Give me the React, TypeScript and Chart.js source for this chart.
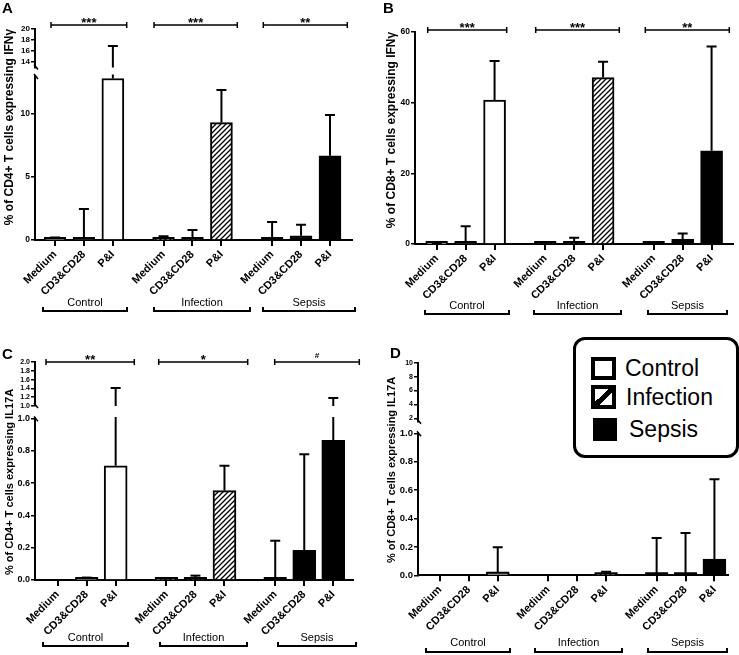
import React, { useEffect, useRef } from "react";
import { Chart, registerables } from "chart.js";

Chart.register(...registerables);

const FONT = "'Liberation Sans', Arial, Helvetica, sans-serif";
Chart.defaults.font.family = FONT;
Chart.defaults.color = "#000";

// ---------------- data ----------------
const categories = ["Medium", "CD3&CD28", "P&I"];
const groups = ["Control", "Infection", "Sepsis"];
// x-axis slots of the bars (three per group, gap between groups)
const slotControl = [0, 1, 2];
const slotInfection = [3.75, 4.75, 5.75];
const slotSepsis = [7.5, 8.5, 9.5];

// A: % of CD4+ T cells expressing IFNγ (mean, and top of error bar)
const aControl = [0.05, 0.1, 12.8];
const aInfection = [0.05, 0.1, 9.3];
const aSepsis = [0.05, 0.34, 6.67];
const aControlUpper = [0.2, 2.45, 16.9];
const aInfectionUpper = [0.3, 0.8, 11.9];
const aSepsisUpper = [1.43, 1.2, 9.9];
const sigA = ["***", "***", "**"];
const ticksALow = [0, 5, 10];
const ticksAHigh = [14, 16, 18, 20];

// B: % of CD8+ T cells expressing IFNγ
const bControl = [0.1, 0.4, 40.7];
const bInfection = [0.3, 0.3, 47.1];
const bSepsis = [0.1, 1.35, 26.4];
const bControlUpper = [0.15, 5.0, 51.8];
const bInfectionUpper = [0.5, 1.8, 51.6];
const bSepsisUpper = [0.3, 3.0, 55.9];
const sigB = ["***", "***", "**"];
const ticksB = [0, 20, 40, 60];

// C: % of CD4+ T cells expressing IL17A
const cControl = [0, 0.003, 0.707];
const cInfection = [0.003, 0.008, 0.553];
const cSepsis = [0.005, 0.184, 0.865];
const cControlUpper = [0, 0.015, 1.41];
const cInfectionUpper = [0.01, 0.027, 0.707];
const cSepsisUpper = [0.243, 0.778, 1.18];
const sigC = ["**", "*", "#"];
const ticksCLow = [0, 0.2, 0.4, 0.6, 0.8, 1.0];
const ticksCHigh = [1.0, 1.2, 1.4, 1.6, 1.8, 2.0];

// D: % of CD8+ T cells expressing IL17A
const dControl = [0, 0, 0.018];
const dInfection = [0, 0, 0.003];
const dSepsis = [0.002, 0.002, 0.115];
const dControlUpper = [0, 0, 0.197];
const dInfectionUpper = [0, 0, 0.025];
const dSepsisUpper = [0.263, 0.298, 0.676];
const ticksDLow = [0, 0.2, 0.4, 0.6, 0.8, 1.0];
const ticksDHigh = [2, 4, 6, 8, 10];

// ---------------- layout ----------------
type Seg = { min: number; max: number; ticks: number[]; decimals: number; tickFont: number; top: number; bottom: number };
type Panel = {
  letter: string; letterPos: number[];
  left: number; top: number; width: number; height: number;
  axisLeft: number; axisRight: number; xMin: number; xMax: number; barThickness: number;
  low: Seg; high?: Seg;
  means: number[][]; uppers: number[][];
  title: string; titlePos: number[]; titleSize: number;
  sig?: { labels: string[]; y: number; spans: number[][] };
  brackets: { y: number; labelY: number; spans: number[][] };
};

const panels: Panel[] = [
  {
    letter: "A", letterPos: [2, 13], left: 0, top: 0, width: 370, height: 330,
    axisLeft: 35, axisRight: 352, xMin: -0.69, xMax: 10.26, barThickness: 22,
    low: { min: 0, max: 13, ticks: ticksALow, decimals: 0, tickFont: 8.5, top: 76, bottom: 240 },
    high: { min: 13, max: 20, ticks: ticksAHigh, decimals: 0, tickFont: 8, top: 29, bottom: 67.5 },
    means: [aControl, aInfection, aSepsis], uppers: [aControlUpper, aInfectionUpper, aSepsisUpper],
    title: "% of CD4+ T cells expressing IFNγ", titlePos: [10, 127], titleSize: 12,
    sig: { labels: sigA, y: 25, spans: [[51, 126.7], [154, 237.3], [263.3, 347.3]] },
    brackets: { y: 311, labelY: 303, spans: [[43, 127], [154, 250], [263, 355]] },
  },
  {
    letter: "B", letterPos: [383, 13], left: 370, top: 0, width: 369, height: 330,
    axisLeft: 415, axisRight: 733, xMin: -0.75, xMax: 10.24, barThickness: 22,
    low: { min: 0, max: 60, ticks: ticksB, decimals: 0, tickFont: 8.5, top: 32, bottom: 244 },
    means: [bControl, bInfection, bSepsis], uppers: [bControlUpper, bInfectionUpper, bSepsisUpper],
    title: "% of CD8+ T cells expressing IFNγ", titlePos: [392, 130], titleSize: 12,
    sig: { labels: sigB, y: 30, spans: [[427.7, 506.7], [535.7, 619.3], [645.3, 729.3]] },
    brackets: { y: 314, labelY: 306, spans: [[425, 509], [534, 621], [648, 727]] },
  },
  {
    letter: "C", letterPos: [2, 359], left: 0, top: 330, width: 370, height: 325,
    axisLeft: 35, axisRight: 353, xMin: -0.78, xMax: 10.18, barThickness: 23,
    low: { min: 0, max: 1, ticks: ticksCLow, decimals: 1, tickFont: 9, top: 418.4, bottom: 580 },
    high: { min: 1, max: 2, ticks: ticksCHigh, decimals: 1, tickFont: 7, top: 362, bottom: 406 },
    means: [cControl, cInfection, cSepsis], uppers: [cControlUpper, cInfectionUpper, cSepsisUpper],
    title: "% of CD4+ T cells expressing IL17A", titlePos: [10, 482], titleSize: 11,
    sig: { labels: sigC, y: 362, spans: [[46, 134.3], [158.7, 247.7], [274.7, 359.3]] },
    brackets: { y: 646, labelY: 638, spans: [[43, 128], [160, 247], [278, 356]] },
  },
  {
    letter: "D", letterPos: [390, 358], left: 370, top: 330, width: 369, height: 325,
    axisLeft: 418, axisRight: 728, xMin: -0.76, xMax: 9.97, barThickness: 23,
    low: { min: 0, max: 1, ticks: ticksDLow, decimals: 1, tickFont: 9.5, top: 433.3, bottom: 575.3 },
    high: { min: 1.5, max: 10, ticks: ticksDHigh, decimals: 0, tickFont: 7, top: 362.7, bottom: 421.8 },
    means: [dControl, dInfection, dSepsis], uppers: [dControlUpper, dInfectionUpper, dSepsisUpper],
    title: "% of CD8+ T cells expressing IL17A", titlePos: [392, 470], titleSize: 11,
    brackets: { y: 652, labelY: 643, spans: [[426, 510], [535, 622], [648, 727]] },
  },
];

function makeHatch(): CanvasPattern | string {
  const c = document.createElement("canvas");
  c.width = 5;
  c.height = 5;
  const ctx = c.getContext("2d");
  if (!ctx) return "#888";
  ctx.fillStyle = "#fff";
  ctx.fillRect(0, 0, 5, 5);
  ctx.strokeStyle = "#000";
  ctx.lineWidth = 1.3;
  ctx.beginPath();
  ctx.moveTo(-1, 6); ctx.lineTo(6, -1);
  ctx.moveTo(-3, 3); ctx.lineTo(3, -3);
  ctx.moveTo(2, 8); ctx.lineTo(8, 2);
  ctx.stroke();
  return ctx.createPattern(c, "repeat") || "#888";
}

function makeOverlay(p: Panel, seg: Seg, isLow: boolean) {
  return {
    id: "overlay" + p.letter + (isLow ? "L" : "H"),
    afterDatasetsDraw(chart: any) {
      const { ctx, chartArea: ca } = chart;
      const y = chart.scales.y;
      const y0 = y.getPixelForValue(0);
      ctx.save();
      ctx.beginPath();
      ctx.rect(ca.left - 20, ca.top - 1.5, ca.right - ca.left + 40, ca.bottom - ca.top + 1.5);
      ctx.clip();
      ctx.strokeStyle = "#000";
      ctx.lineWidth = 2;
      for (let g = 0; g < 3; g++) {
        const meta = chart.getDatasetMeta(g);
        meta.data.forEach((el: any, i: number) => {
          const m = p.means[g][i];
          const u = p.uppers[g][i];
          const x = el.x;
          let yb = y.getPixelForValue(m);
          if (isLow && m > 0 && Math.abs(y0 - yb) < 4) {
            yb = Math.min(yb, y0 - 2);
            const half = el.width / 2;
            ctx.beginPath();
            ctx.moveTo(x - half, yb);
            ctx.lineTo(x + half, yb);
            ctx.stroke();
          }
          if (u > m) {
            const yt = y.getPixelForValue(u);
            ctx.beginPath();
            ctx.moveTo(x, yb);
            ctx.lineTo(x, yt);
            ctx.stroke();
            if (u >= seg.min && u <= seg.max) {
              ctx.beginPath();
              ctx.moveTo(x - 5, yt);
              ctx.lineTo(x + 5, yt);
              ctx.stroke();
            }
          }
        });
      }
      ctx.restore();
    },
    afterDraw(chart: any) {
      const { ctx, chartArea: ca } = chart;
      ctx.save();
      ctx.strokeStyle = "#000";
      ctx.fillStyle = "#000";
      ctx.lineWidth = 1.5;
      // axis break marks
      if (p.high) {
        ctx.beginPath();
        if (isLow) {
          ctx.moveTo(ca.left - 1, ca.top - 2);
          ctx.lineTo(ca.left + 3, ca.top + 3);
        } else {
          ctx.moveTo(ca.left - 1, ca.bottom - 3);
          ctx.lineTo(ca.left + 3, ca.bottom + 2);
        }
        ctx.stroke();
      }
      if (isLow) {
        const ox = p.left;
        const oy = p.top;
        // panel letter
        ctx.font = `bold 15px ${FONT}`;
        ctx.textAlign = "left";
        ctx.textBaseline = "alphabetic";
        ctx.fillText(p.letter, p.letterPos[0] - ox, p.letterPos[1] - oy);
        // y title
        ctx.save();
        ctx.translate(p.titlePos[0] - ox, p.titlePos[1] - oy);
        ctx.rotate(-Math.PI / 2);
        ctx.font = `bold ${p.titleSize}px ${FONT}`;
        ctx.textAlign = "center";
        ctx.textBaseline = "middle";
        ctx.fillText(p.title, 0, 0);
        ctx.restore();
        // significance brackets
        if (p.sig) {
          const sy = p.sig.y - oy;
          p.sig.spans.forEach((s, j) => {
            const x1 = s[0] - ox;
            const x2 = s[1] - ox;
            ctx.lineWidth = 1.5;
            ctx.beginPath();
            ctx.moveTo(x1, sy); ctx.lineTo(x2, sy);
            ctx.moveTo(x1, sy - 3); ctx.lineTo(x1, sy + 3);
            ctx.moveTo(x2, sy - 3); ctx.lineTo(x2, sy + 3);
            ctx.stroke();
            const lab = p.sig!.labels[j];
            ctx.textAlign = "center";
            ctx.textBaseline = "alphabetic";
            if (lab === "#") {
              ctx.font = `bold 8px ${FONT}`;
              ctx.fillText(lab, (x1 + x2) / 2, sy - 4);
            } else {
              ctx.font = `bold 13px ${FONT}`;
              ctx.fillText(lab, (x1 + x2) / 2, sy + 1.5);
            }
          });
        }
        // group labels with brackets
        const by = p.brackets.y - oy;
        p.brackets.spans.forEach((s, j) => {
          const x1 = s[0] - ox;
          const x2 = s[1] - ox;
          ctx.lineWidth = 2;
          ctx.beginPath();
          ctx.moveTo(x1, by - 4);
          ctx.lineTo(x1, by);
          ctx.lineTo(x2, by);
          ctx.lineTo(x2, by - 4);
          ctx.stroke();
          ctx.font = `11px ${FONT}`;
          ctx.textAlign = "center";
          ctx.textBaseline = "middle";
          ctx.fillText(groups[j], (x1 + x2) / 2, p.brackets.labelY - oy);
        });
      }
      ctx.restore();
    },
  };
}

function makeChart(canvas: HTMLCanvasElement, p: Panel, seg: Seg, isLow: boolean, hatch: any) {
  const fills = ["#ffffff", hatch, "#000000"];
  const slots = [slotControl, slotInfection, slotSepsis];
  const allSlots = [...slotControl, ...slotInfection, ...slotSepsis];
  const cw = canvas.width;
  const ch = canvas.height;
  const XH = 62;
  const padTop = seg.top - p.top;
  const padBottom = isLow ? ch - (seg.bottom - p.top) - XH : ch - (seg.bottom - p.top);
  const padRight = p.left + cw - p.axisRight;
  const yWidth = p.axisLeft - p.left;
  return new Chart(canvas, {
    type: "bar",
    data: {
      datasets: groups.map((name, g) => ({
        label: name,
        data: slots[g].map((x, i) => ({ x, y: p.means[g][i] })),
        backgroundColor: fills[g],
        borderColor: "#000",
        borderWidth: 2,
        borderSkipped: "start",
        barThickness: p.barThickness,
        grouped: false,
      })),
    } as any,
    options: {
      animation: false,
      responsive: false,
      maintainAspectRatio: false,
      events: [],
      layout: { padding: { left: 0, right: padRight, top: padTop, bottom: padBottom } },
      plugins: { legend: { display: false }, tooltip: { enabled: false }, title: { display: false } },
      scales: {
        x: {
          type: "linear",
          offset: false,
          min: p.xMin,
          max: p.xMax,
          display: isLow,
          afterBuildTicks: (s: any) => {
            s.ticks = allSlots.map((v) => ({ value: v }));
          },
          afterFit: (s: any) => {
            if (isLow) s.height = XH;
          },
          ticks: {
            autoSkip: false,
            minRotation: 45,
            maxRotation: 45,
            padding: 2,
            color: "#000",
            font: { size: 11, weight: "bold" },
            callback: (_v: any, i: number) => categories[i % 3],
          },
          grid: { offset: false, drawOnChartArea: false, drawTicks: true, tickLength: 6, color: "#000", lineWidth: 2 },
          border: { display: true, color: "#000", width: 2 },
        },
        y: {
          type: "linear",
          min: seg.min,
          max: seg.max,
          afterBuildTicks: (s: any) => {
            s.ticks = seg.ticks.map((v) => ({ value: v }));
          },
          afterFit: (s: any) => {
            s.width = yWidth;
          },
          ticks: {
            autoSkip: false,
            padding: 1,
            color: "#000",
            font: { size: seg.tickFont, weight: "bold" },
            callback: (v: any) => Number(v).toFixed(seg.decimals),
          },
          grid: { drawOnChartArea: false, drawTicks: true, tickLength: 4, color: "#000", lineWidth: 1.5 },
          border: { display: true, color: "#000", width: 2 },
        },
      },
    } as any,
    plugins: [makeOverlay(p, seg, isLow)],
  });
}

function PanelCharts({ panel }: { panel: Panel }) {
  const lowRef = useRef<HTMLCanvasElement>(null);
  const highRef = useRef<HTMLCanvasElement>(null);
  useEffect(() => {
    const hatch = makeHatch();
    const charts: Chart[] = [];
    if (lowRef.current) charts.push(makeChart(lowRef.current, panel, panel.low, true, hatch));
    if (panel.high && highRef.current) charts.push(makeChart(highRef.current, panel, panel.high, false, hatch));
    return () => charts.forEach((c) => c.destroy());
  }, [panel]);
  const highH = panel.high ? Math.ceil(panel.high.bottom - panel.top + 10) : 0;
  return (
    <>
      <canvas ref={lowRef} width={panel.width} height={panel.height}
        style={{ position: "absolute", left: panel.left, top: panel.top }} />
      {panel.high && (
        <canvas ref={highRef} width={panel.width} height={highH}
          style={{ position: "absolute", left: panel.left, top: panel.top }} />
      )}
    </>
  );
}

function LegendBox() {
  const text: React.CSSProperties = { position: "absolute", fontFamily: FONT, fontSize: 23, lineHeight: "23px", color: "#000", whiteSpace: "nowrap" };
  return (
    <>
      <div style={{ position: "absolute", left: 573, top: 337, width: 166, height: 121, border: "3px solid #000", borderRadius: 12, boxSizing: "border-box", background: "#fff" }} />
      <div style={{ position: "absolute", left: 591, top: 357, width: 25, height: 23, border: "4px solid #000", boxSizing: "border-box", background: "#fff" }} />
      <div style={{ position: "absolute", left: 591, top: 385, width: 25, height: 24, border: "4px solid #000", boxSizing: "border-box", background: "linear-gradient(to bottom right, #fff 0%, #fff 40%, #000 40%, #000 62%, #fff 62%, #fff 100%)" }} />
      <div style={{ position: "absolute", left: 593, top: 418, width: 24, height: 23, background: "#000" }} />
      <div style={{ ...text, left: 625, top: 357 }}>{groups[0]}</div>
      <div style={{ ...text, left: 626, top: 386 }}>{groups[1]}</div>
      <div style={{ ...text, left: 629, top: 418 }}>{groups[2]}</div>
    </>
  );
}

export default function App() {
  return (
    <div style={{ position: "absolute", left: 0, top: 0, width: 739, height: 655, background: "#fff", overflow: "hidden" }}>
      {panels.map((p) => (
        <PanelCharts key={p.letter} panel={p} />
      ))}
      <LegendBox />
    </div>
  );
}
